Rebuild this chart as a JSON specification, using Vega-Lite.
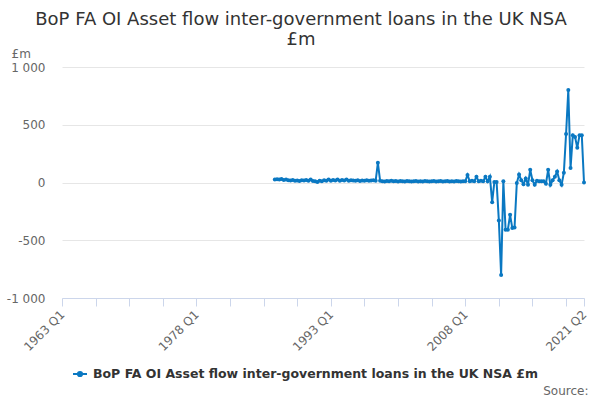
{
  "$schema": "https://vega.github.io/schema/vega-lite/v6.json",
  "width": 522,
  "height": 231,
  "autosize": {"type": "none"},
  "padding": {"left": 62, "top": 67, "right": 16, "bottom": 102},
  "config": {
    "font": "DejaVu Sans",
    "view": {"stroke": null},
    "axis": {"labelFont": "DejaVu Sans", "titleFont": "DejaVu Sans"}
  },
  "title": {
    "text": ["BoP FA OI Asset flow inter-government loans in the UK NSA", "£m"],
    "fontSize": 18,
    "fontWeight": "normal",
    "color": "#333333",
    "anchor": "middle",
    "frame": "group",
    "dx": -22,
    "dy": 14,
    "offset": 12,
    "lineHeight": 20
  },
  "data": {
    "values": [
      {"date": "1986-10-01", "value": 25},
      {"date": "1987-01-01", "value": 28},
      {"date": "1987-04-01", "value": 25},
      {"date": "1987-07-01", "value": 30},
      {"date": "1987-10-01", "value": 22},
      {"date": "1988-01-01", "value": 25},
      {"date": "1988-04-01", "value": 20},
      {"date": "1988-07-01", "value": 18},
      {"date": "1988-10-01", "value": 22},
      {"date": "1989-01-01", "value": 15},
      {"date": "1989-04-01", "value": 18},
      {"date": "1989-07-01", "value": 12},
      {"date": "1989-10-01", "value": 20},
      {"date": "1990-01-01", "value": 18},
      {"date": "1990-04-01", "value": 22},
      {"date": "1990-07-01", "value": 15},
      {"date": "1990-10-01", "value": 25},
      {"date": "1991-01-01", "value": 12},
      {"date": "1991-04-01", "value": 10},
      {"date": "1991-07-01", "value": 5},
      {"date": "1991-10-01", "value": 15},
      {"date": "1992-01-01", "value": 10},
      {"date": "1992-04-01", "value": 20},
      {"date": "1992-07-01", "value": 15},
      {"date": "1992-10-01", "value": 25},
      {"date": "1993-01-01", "value": 15},
      {"date": "1993-04-01", "value": 22},
      {"date": "1993-07-01", "value": 18},
      {"date": "1993-10-01", "value": 25},
      {"date": "1994-01-01", "value": 15},
      {"date": "1994-04-01", "value": 22},
      {"date": "1994-07-01", "value": 18},
      {"date": "1994-10-01", "value": 25},
      {"date": "1995-01-01", "value": 15},
      {"date": "1995-04-01", "value": 20},
      {"date": "1995-07-01", "value": 18},
      {"date": "1995-10-01", "value": 15},
      {"date": "1996-01-01", "value": 20},
      {"date": "1996-04-01", "value": 12},
      {"date": "1996-07-01", "value": 18},
      {"date": "1996-10-01", "value": 15},
      {"date": "1997-01-01", "value": 20},
      {"date": "1997-04-01", "value": 15},
      {"date": "1997-07-01", "value": 18},
      {"date": "1997-10-01", "value": 20},
      {"date": "1998-01-01", "value": 15},
      {"date": "1998-04-01", "value": 170},
      {"date": "1998-07-01", "value": 15},
      {"date": "1998-10-01", "value": 10},
      {"date": "1999-01-01", "value": 8},
      {"date": "1999-04-01", "value": 12},
      {"date": "1999-07-01", "value": 10},
      {"date": "1999-10-01", "value": 15},
      {"date": "2000-01-01", "value": 10},
      {"date": "2000-04-01", "value": 12},
      {"date": "2000-07-01", "value": 8},
      {"date": "2000-10-01", "value": 12},
      {"date": "2001-01-01", "value": 10},
      {"date": "2001-04-01", "value": 8},
      {"date": "2001-07-01", "value": 12},
      {"date": "2001-10-01", "value": 10},
      {"date": "2002-01-01", "value": 8},
      {"date": "2002-04-01", "value": 10},
      {"date": "2002-07-01", "value": 12},
      {"date": "2002-10-01", "value": 8},
      {"date": "2003-01-01", "value": 10},
      {"date": "2003-04-01", "value": 8},
      {"date": "2003-07-01", "value": 12},
      {"date": "2003-10-01", "value": 10},
      {"date": "2004-01-01", "value": 8},
      {"date": "2004-04-01", "value": 10},
      {"date": "2004-07-01", "value": 12},
      {"date": "2004-10-01", "value": 8},
      {"date": "2005-01-01", "value": 10},
      {"date": "2005-04-01", "value": 12},
      {"date": "2005-07-01", "value": 8},
      {"date": "2005-10-01", "value": 10},
      {"date": "2006-01-01", "value": 12},
      {"date": "2006-04-01", "value": 8},
      {"date": "2006-07-01", "value": 10},
      {"date": "2006-10-01", "value": 8},
      {"date": "2007-01-01", "value": 12},
      {"date": "2007-04-01", "value": 10},
      {"date": "2007-07-01", "value": 8},
      {"date": "2007-10-01", "value": 10},
      {"date": "2008-01-01", "value": 10},
      {"date": "2008-04-01", "value": 65},
      {"date": "2008-07-01", "value": 10},
      {"date": "2008-10-01", "value": 15},
      {"date": "2009-01-01", "value": 10},
      {"date": "2009-04-01", "value": 50},
      {"date": "2009-07-01", "value": 10},
      {"date": "2009-10-01", "value": 15},
      {"date": "2010-01-01", "value": 10},
      {"date": "2010-04-01", "value": 50},
      {"date": "2010-07-01", "value": 10},
      {"date": "2010-10-01", "value": 50},
      {"date": "2011-01-01", "value": -170},
      {"date": "2011-04-01", "value": 5},
      {"date": "2011-07-01", "value": 5},
      {"date": "2011-10-01", "value": -330},
      {"date": "2012-01-01", "value": -800},
      {"date": "2012-04-01", "value": 10},
      {"date": "2012-07-01", "value": -410},
      {"date": "2012-10-01", "value": -410},
      {"date": "2013-01-01", "value": -280},
      {"date": "2013-04-01", "value": -395},
      {"date": "2013-07-01", "value": -390},
      {"date": "2013-10-01", "value": -5},
      {"date": "2014-01-01", "value": 70},
      {"date": "2014-04-01", "value": 20},
      {"date": "2014-07-01", "value": -15},
      {"date": "2014-10-01", "value": 35},
      {"date": "2015-01-01", "value": -20},
      {"date": "2015-04-01", "value": 110},
      {"date": "2015-07-01", "value": 20},
      {"date": "2015-10-01", "value": -20},
      {"date": "2016-01-01", "value": 15},
      {"date": "2016-04-01", "value": 10},
      {"date": "2016-07-01", "value": 10},
      {"date": "2016-10-01", "value": 10},
      {"date": "2017-01-01", "value": -10},
      {"date": "2017-04-01", "value": 110},
      {"date": "2017-07-01", "value": -20},
      {"date": "2017-10-01", "value": 20},
      {"date": "2018-01-01", "value": 50},
      {"date": "2018-04-01", "value": 95},
      {"date": "2018-07-01", "value": 20},
      {"date": "2018-10-01", "value": -20},
      {"date": "2019-01-01", "value": 85},
      {"date": "2019-04-01", "value": 420},
      {"date": "2019-07-01", "value": 800},
      {"date": "2019-10-01", "value": 125},
      {"date": "2020-01-01", "value": 410},
      {"date": "2020-04-01", "value": 395},
      {"date": "2020-07-01", "value": 300},
      {"date": "2020-10-01", "value": 410},
      {"date": "2021-01-01", "value": 410},
      {"date": "2021-04-01", "value": 0}
    ]
  },
  "mark": {
    "type": "line",
    "strokeWidth": 2,
    "point": {"filled": true, "size": 16}
  },
  "encoding": {
    "x": {
      "field": "date",
      "type": "temporal",
      "scale": {
        "domain": [
          {"year": 1963, "month": 1, "date": 1, "utc": true},
          {"year": 2021, "month": 4, "date": 1, "utc": true}
        ]
      },
      "axis": {
        "title": "Source:",
        "titleAnchor": "end",
        "titleAlign": "right",
        "titleBaseline": "middle",
        "titleX": 526,
        "titleY": 92,
        "titleFontSize": 12,
        "titleFontWeight": "normal",
        "titleColor": "#666666",
        "values": [
          {"year": 1963, "quarter": 1, "utc": true},
          {"year": 1966, "quarter": 4, "utc": true},
          {"year": 1970, "quarter": 3, "utc": true},
          {"year": 1974, "quarter": 2, "utc": true},
          {"year": 1978, "quarter": 1, "utc": true},
          {"year": 1981, "quarter": 4, "utc": true},
          {"year": 1985, "quarter": 3, "utc": true},
          {"year": 1989, "quarter": 2, "utc": true},
          {"year": 1993, "quarter": 1, "utc": true},
          {"year": 1996, "quarter": 4, "utc": true},
          {"year": 2000, "quarter": 3, "utc": true},
          {"year": 2004, "quarter": 2, "utc": true},
          {"year": 2008, "quarter": 1, "utc": true},
          {"year": 2011, "quarter": 4, "utc": true},
          {"year": 2015, "quarter": 3, "utc": true},
          {"year": 2019, "quarter": 2, "utc": true},
          {"year": 2021, "quarter": 2, "utc": true}
        ],
        "labelExpr": "indexof(['1963 Q1','1978 Q1','1993 Q1','2008 Q1','2021 Q2'], utcFormat(datum.value, '%Y Q%q')) >= 0 ? utcFormat(datum.value, '%Y Q%q') : ''",
        "labelAngle": -45,
        "labelAlign": "right",
        "labelBaseline": "middle",
        "labelFontSize": 12,
        "labelColor": "#666666",
        "labelPadding": 6,
        "labelOverlap": false,
        "labelFlush": false,
        "grid": false,
        "domainColor": "#ccd6eb",
        "tickColor": "#ccd6eb",
        "tickSize": 8
      }
    },
    "y": {
      "field": "value",
      "type": "quantitative",
      "scale": {"domain": [-1000, 1000], "nice": false, "zero": false},
      "axis": {
        "values": [-1000, -500, 0, 500, 1000],
        "labelExpr": "replace(replace(format(datum.value, ','), ',', ' '), '−', '-')",
        "title": "£m",
        "titleAngle": 0,
        "titleAlign": "left",
        "titleBaseline": "alphabetic",
        "titleX": -51,
        "titleY": -10,
        "titleFontSize": 12,
        "titleFontWeight": "normal",
        "titleColor": "#666666",
        "labelFontSize": 12,
        "labelColor": "#666666",
        "labelPadding": 17,
        "ticks": false,
        "domain": false,
        "gridColor": "#e6e6e6"
      }
    },
    "color": {
      "datum": "BoP FA OI Asset flow inter-government loans in the UK NSA £m",
      "type": "nominal",
      "scale": {"range": ["#0a78c2"]},
      "legend": {
        "title": null,
        "orient": "none",
        "legendX": 10,
        "legendY": 299,
        "symbolType": "M-1,0L1,0M-0.3,0A0.3,0.3,0,1,1,0.3,0A0.3,0.3,0,1,1,-0.3,0Z",
        "symbolSize": 196,
        "symbolStrokeWidth": 2,
        "symbolFillColor": "#0a78c2",
        "symbolStrokeColor": "#0a78c2",
        "labelFontSize": 12.5,
        "labelFontWeight": "bold",
        "labelColor": "#333333",
        "labelOffset": 5,
        "labelLimit": 600
      }
    }
  }
}
